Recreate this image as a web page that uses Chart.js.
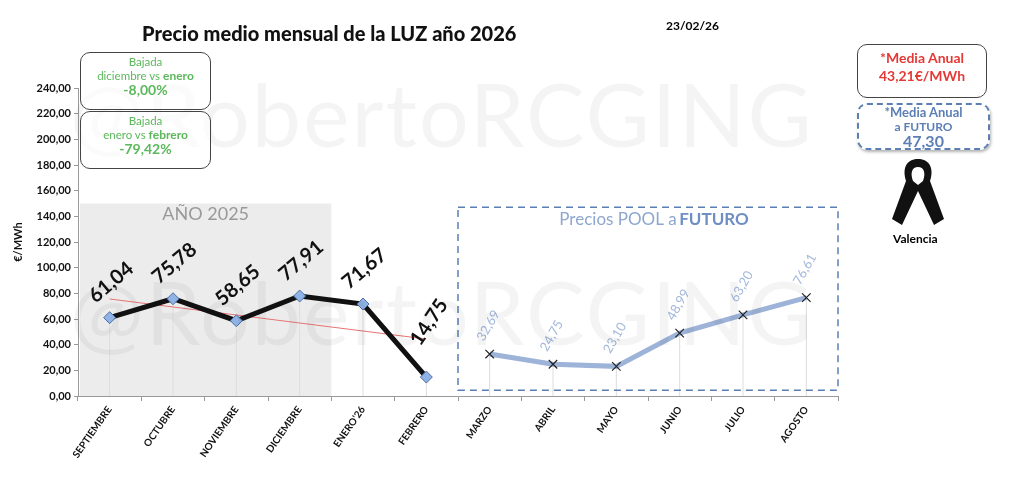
<!DOCTYPE html>
<html><head><meta charset="utf-8">
<script src="https://cdn.jsdelivr.net/npm/chart.js@4.4.1/dist/chart.umd.min.js"></script>
<style>
body{margin:0;background:#fff;font-family:Lato,"Noto Sans",sans-serif}
#wrap{position:relative;width:1024px;height:483px;overflow:hidden}
.box{position:absolute;border:1px solid #444;border-radius:10px;text-align:center;background:rgba(255,255,255,0.6)}
.g{color:#5cb85c;font-size:11.5px;line-height:14px}
.g b{font-size:14px}
.wm{position:absolute;font-size:88px;color:rgba(0,0,0,0.045);letter-spacing:2px;white-space:nowrap}
</style></head><body>
<div id="wrap">
<canvas id="c" width="1024" height="483"></canvas>
<div class="wm" style="left:70px;top:60px">@RobertoRCGING</div>
<div class="wm" style="left:70px;top:258px">@RobertoRCGING</div>
<div style="position:absolute;left:142px;top:21px;font-size:20px;font-weight:900;color:#111">Precio medio mensual de la LUZ año 2026</div>
<div style="position:absolute;left:666px;top:18px;font-size:12px;font-weight:bold">23/02/26</div>
<div class="box g" style="left:80px;top:52px;width:129px;height:54px;padding-top:2px">Bajada<br>diciembre vs <b style="font-size:12px">enero</b><br><b>-8,00%</b></div>
<div class="box g" style="left:80px;top:111px;width:129px;height:54px;padding-top:2px">Bajada<br>enero vs <b style="font-size:12px">febrero</b><br><b>-79,42%</b></div>
<div class="box" style="left:857px;top:44px;width:128px;height:48px;color:#e53935;font-weight:bold;font-size:14px;line-height:18px;padding-top:4px">*Media Anual<br>43,21€/MWh</div>
<div class="box" style="left:857px;top:103px;width:129px;height:43px;border:2px dashed #5b7fb5;color:#5b7fb5;font-weight:bold;font-size:13px;line-height:14px;padding-top:0px;box-shadow:1px 2px 3px rgba(0,0,0,0.3)">*Media Anual<br><span style="font-size:12px">a FUTURO</span><br><span style="font-size:16px">47,30</span></div>
<svg style="position:absolute;left:888px;top:155px" width="60" height="72" viewBox="0 0 60 72">
<path d="M30 4 C18 4 14 14 18 26 L4 64 L14 70 L30 36 L46 70 L56 64 L42 26 C46 14 42 4 30 4 Z M30 12 C36 12 38 18 35 26 L30 30 L25 26 C22 18 24 12 30 12Z" fill="#111" fill-rule="evenodd"/></svg>
<div style="position:absolute;left:893px;top:231px;font-size:12px;font-weight:bold">Valencia</div>
</div>
<script>
const months = ['SEPTIEMBRE','OCTUBRE','NOVIEMBRE','DICIEMBRE',"ENERO'26",'FEBRERO','MARZO','ABRIL','MAYO','JUNIO','JULIO','AGOSTO'];
const real = [61.04, 75.78, 58.65, 77.91, 71.67, 14.75, null, null, null, null, null, null];
const futuro = [null, null, null, null, null, null, 32.69, 24.75, 23.10, 48.99, 63.20, 76.61];
const trend = [75.6, null, null, null, null, 44.4, null, null, null, null, null, null];
const yTicks = [0,20,40,60,80,100,120,140,160,180,200,220,240];
const fmt = v => v.toFixed(2).replace('.', ',');

const decor = {
  id: 'decor',
  beforeDatasetsDraw(ch) {
    const {ctx, scales: {x, y}} = ch;
    const step = x.getPixelForValue(1) - x.getPixelForValue(0);
    ctx.save();
    // zona gris 2025
    ctx.fillStyle = 'rgba(200,200,200,0.35)';
    const gx0 = x.left + 2, gx1 = x.getPixelForValue(3) + step * 0.5;
    ctx.fillRect(gx0, y.getPixelForValue(150), gx1 - gx0, y.getPixelForValue(0) - y.getPixelForValue(150));
    ctx.font = '18px Lato'; ctx.fillStyle = '#999'; ctx.textAlign = 'center';
    ctx.fillText('AÑO 2025', (gx0 + gx1) / 2, y.getPixelForValue(137));
    // rejilla vertical
    ctx.strokeStyle = '#ddd'; ctx.lineWidth = 1;
    months.forEach((m, i) => {
      const px = x.getPixelForValue(i), v = real[i] ?? futuro[i];
      ctx.beginPath(); ctx.moveTo(px, y.getPixelForValue(0)); ctx.lineTo(px, y.getPixelForValue(v)); ctx.stroke();
    });
    // caja futuro
    ctx.strokeStyle = '#5b7fb5'; ctx.lineWidth = 1.5; ctx.setLineDash([7, 5]);
    const bx0 = x.getPixelForValue(5) + step * 0.5, bx1 = x.right;
    ctx.strokeRect(bx0, y.getPixelForValue(147), bx1 - bx0, y.getPixelForValue(4.5) - y.getPixelForValue(147));
    ctx.setLineDash([]);
    ctx.font = '17px Lato'; ctx.fillStyle = '#8ea7cf';
    ctx.fillText('Precios POOL a', (bx0 + bx1) / 2 - 30, y.getPixelForValue(133));
    ctx.font = 'bold 17px Lato'; ctx.fillStyle = '#6f8fc4';
    ctx.fillText('FUTURO', (bx0 + bx1) / 2 + 66, y.getPixelForValue(133));
    ctx.restore();
  },
  afterDatasetsDraw(ch) {
    const {ctx, scales: {x, y}} = ch;
    ctx.save();
    ctx.textAlign = 'left';
    real.forEach((v, i) => {
      if (v == null) return;
      ctx.save();
      const last = i === 5;
      ctx.translate(x.getPixelForValue(i) - (last ? 6 : 14), y.getPixelForValue(v) - (last ? 30 : 14));
      ctx.rotate(last ? -Math.PI / 3.2 : -Math.PI / 4.5);
      ctx.font = 'bold 20px Lato'; ctx.fillStyle = '#111';
      ctx.fillText(fmt(v), 0, 0);
      ctx.restore();
    });
    futuro.forEach((v, i) => {
      if (v == null) return;
      ctx.save();
      ctx.translate(x.getPixelForValue(i) - 6, y.getPixelForValue(v) - 12);
      ctx.rotate(-Math.PI / 3);
      ctx.font = '13px Lato'; ctx.fillStyle = '#a3b8db';
      ctx.fillText(fmt(v), 0, 0);
      ctx.restore();
    });
    ctx.save();
    ctx.translate(22, (y.top + y.bottom) / 2);
    ctx.rotate(-Math.PI / 2);
    ctx.font = 'bold 11px Lato'; ctx.fillStyle = '#111'; ctx.textAlign = 'center';
    ctx.fillText('€/MWh', 0, 0);
    ctx.restore();
    ctx.restore();
  }
};

new Chart(document.getElementById('c'), {
  type: 'line',
  data: {
    labels: months,
    datasets: [
      {data: trend, borderColor: '#e57373', borderWidth: 1, pointRadius: 0, spanGaps: true, order: 3},
      {data: futuro, borderColor: '#9db3d8', borderWidth: 5, pointStyle: 'crossRot', pointRadius: 6,
       pointBorderColor: '#222', pointBorderWidth: 1.2, order: 2},
      {data: real, borderColor: '#111', borderWidth: 5, pointStyle: 'rectRot', pointRadius: 6,
       pointBackgroundColor: '#8fb3e6', pointBorderColor: '#4d6e9e', pointBorderWidth: 1, order: 1}
    ]
  },
  options: {
    responsive: false, animation: false,
    layout: {padding: {top: 88, right: 186, left: 0, bottom: 0}},
    plugins: {legend: {display: false}, tooltip: {enabled: false}},
    scales: {
      x: {
        offset: true,
        grid: {display: true, drawOnChartArea: false, tickLength: 5, color: '#999', offset: true},
        border: {color: '#999'},
        afterFit: s => { s.height = 87; },
        ticks: {maxRotation: 55, minRotation: 55, color: '#111', font: {size: 10, weight: 'bold', family: 'Lato'}}
      },
      y: {
        min: 0, max: 240,
        afterBuildTicks: s => { s.ticks = yTicks.map(v => ({value: v})); },
        afterFit: s => { s.width = 78; },
        grid: {drawOnChartArea: false, tickLength: 4, color: '#999'},
        border: {color: '#999'},
        ticks: {color: '#111', font: {size: 11, weight: 'bold', family: 'Lato'}, callback: v => fmt(v)}
      }
    }
  },
  plugins: [decor]
});
</script>
</body></html>
